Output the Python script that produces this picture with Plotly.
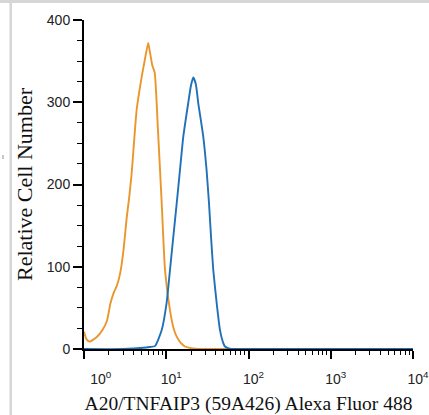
import plotly.graph_objects as go

# Orange histogram (isotype / control)
orange_x = [1.00, 1.07, 1.17, 1.41, 1.70, 1.91, 2.09, 2.29, 2.51, 2.75, 3.02, 3.31,
            3.55, 3.80, 4.37, 5.01, 5.50, 6.03, 6.31, 6.76, 7.24, 7.94, 8.81, 9.66,
            11.1, 12.3, 13.4, 15.1, 16.9, 20.0, 28.2, 10000]
orange_y = [21, 12, 9, 14, 24, 35, 55, 68, 77, 92, 120, 160,
            185, 214, 291, 330, 352, 372, 362, 345, 336, 265, 177, 96,
            47, 25, 15, 7, 3, 1, 0, 0]

# Blue histogram (A20/TNFAIP3 stained)
blue_x = [1.00, 3.00, 5.25, 6.31, 7.29, 8.81, 10.1, 11.1, 12.2, 13.4, 14.7, 16.1,
          18.5, 19.95, 21.3, 22.9, 24.5, 28.2, 30.9, 33.1, 35.0, 37.3, 41.0, 45.0,
          49.0, 51.8, 58.9, 70.8, 10000]
blue_y = [0, 0, 1.5, 2.5, 3.5, 23, 56, 96, 137, 177, 218, 258,
          299, 320, 330, 322, 299, 258, 218, 177, 137, 96, 56, 23,
          8, 3, 0.5, 0, 0]

x_tickvals = [1, 10, 100, 1000, 10000]
x_ticktext = ["\u00a0" * 6 + "10<sup>0</sup>", "10<sup>1</sup>", "10<sup>2</sup>",
              "10<sup>3</sup>", "10<sup>4</sup>"]
x_minor = [m * 10 ** k for k in range(4) for m in range(2, 10)]
y_tickvals = [0, 100, 200, 300, 400]

x_title = "A20/TNFAIP3 (59A426) Alexa Fluor 488"
y_title = "Relative Cell Number"

W, H = 429, 415
L, R, T, B = 84, 16, 20, 66
PW, PH = W - L - R, H - T - B


def px(x):
    return (x - L) / PW


def py(y):
    return (H - B - y) / PH


fig = go.Figure()
fig.add_trace(go.Scatter(x=orange_x, y=orange_y, mode="lines",
                         line=dict(color="#eb962c", width=1.9, shape="spline", smoothing=0.5),
                         showlegend=False, hoverinfo="skip"))
fig.add_trace(go.Scatter(x=blue_x, y=blue_y, mode="lines",
                         line=dict(color="#2171b8", width=1.9, shape="spline", smoothing=0.5),
                         showlegend=False, hoverinfo="skip"))

frame = "#d6d6d6"
shapes = [
    dict(type="rect", xref="paper", yref="paper", x0=px(0), x1=px(W), y0=py(3), y1=py(0),
         fillcolor=frame, line=dict(width=0), layer="above"),
    dict(type="rect", xref="paper", yref="paper", x0=px(9.5), x1=px(12), y0=py(H), y1=py(0),
         fillcolor=frame, line=dict(width=0), layer="above"),
    dict(type="rect", xref="paper", yref="paper", x0=px(2), x1=px(4), y0=py(159), y1=py(155),
         fillcolor="#c8c8c8", line=dict(width=0), layer="above"),
]

fig.update_layout(
    width=W, height=H,
    margin=dict(l=L, r=R, t=T, b=B, autoexpand=False),
    paper_bgcolor="white", plot_bgcolor="white",
    shapes=shapes,
    xaxis=dict(type="log", range=[0, 4], tickvals=x_tickvals, ticktext=x_ticktext,
               ticks="outside", ticklen=8, tickwidth=1.5, tickcolor="black",
               minor=dict(tickvals=x_minor, ticks="outside", ticklen=4, tickwidth=1.2, tickcolor="black"),
               showline=True, linewidth=2, linecolor="black", showgrid=False, zeroline=False,
               tickfont=dict(family="Liberation Sans, Arial", size=14, color="#222"),
               ticklabelshift=5, ticklabelstandoff=8, ticklabeloverflow="allow", automargin=False,
               title=dict(text=x_title, standoff=14,
                          font=dict(family="Liberation Serif, Times New Roman", size=19.5, color="#111"))),
    yaxis=dict(range=[0, 400], tickvals=y_tickvals,
               ticks="outside", ticklen=9, tickwidth=1.5, tickcolor="black",
               minor=dict(dtick=25, ticks="outside", ticklen=5, tickwidth=1.2, tickcolor="black"),
               showline=True, linewidth=2, linecolor="black", showgrid=False, zeroline=False,
               tickfont=dict(family="Liberation Sans, Arial", size=14, color="#222"),
               automargin=False,
               title=dict(text="\u00a0" * 4 + y_title, standoff=8,
                          font=dict(family="Liberation Serif, Times New Roman", size=22, color="#111"))),
)

fig.write_html("out.html", config={"displayModeBar": False},
               post_script="document.body.style.margin='0';document.body.style.overflow='hidden';")
